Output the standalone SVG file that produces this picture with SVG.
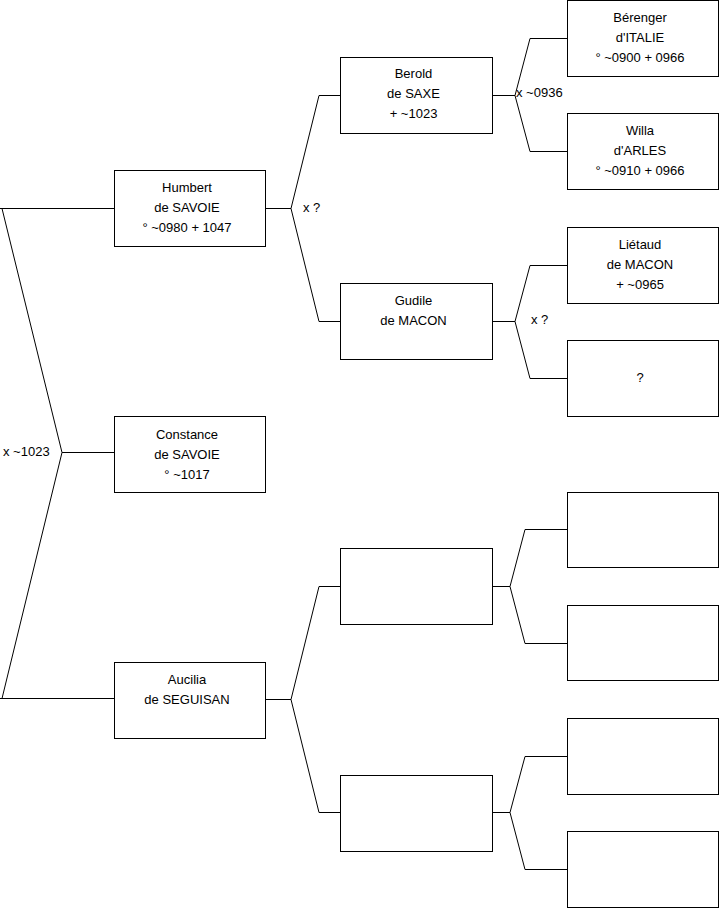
<svg xmlns="http://www.w3.org/2000/svg" width="719" height="908" viewBox="0 0 719 908">
<style>
.box{fill:#fff;stroke:#000;stroke-width:1}
.ln{fill:none;stroke:#000;stroke-width:1}
text{font-family:"Liberation Sans",Arial,sans-serif;font-size:13px;fill:#000}
.c{text-anchor:middle}
</style>
<rect width="719" height="908" fill="#fff"/>
<g id="connectors">
<path class="ln" d="M0 208.5H114.5M2 208.5L62 452.5L2 698.5M0 698.5H114.5M62 452.5H114.5"/>
<path class="ln" d="M265.5 208.5H291M340.5 95.5H319L291 208.5L319 321.5H340.5"/>
<path class="ln" d="M265.5 699.5H291M340.5 586.5H319L291 699.5L319 812.5H340.5"/>
<path class="ln" d="M492.5 95.5H515M567.5 38.5H530L515 95.5L530 151.5H567.5"/>
<path class="ln" d="M492.5 321.5H515M567.5 265.5H530L515 321.5L530 378.5H567.5"/>
<path class="ln" d="M492.5 586.5H510M567.5 529.5H525L510 586.5L525 643.5H567.5"/>
<path class="ln" d="M492.5 812.5H510M567.5 756.5H525L510 812.5L525 869.5H567.5"/>
<text x="3" y="456">x ~1023</text>
<text x="303" y="212">x ?</text>
<text x="516" y="97">x ~0936</text>
<text x="531" y="324">x ?</text>
</g>
<g id="humbert"><rect class="box" x="114.5" y="170.5" width="151" height="76"/>
<text class="c" x="187" y="192">Humbert</text><text class="c" x="187" y="212">de SAVOIE</text><text class="c" x="187" y="232">° ~0980 + 1047</text></g>
<g id="constance"><rect class="box" x="114.5" y="416.5" width="151" height="76"/>
<text class="c" x="187" y="439">Constance</text><text class="c" x="187" y="459">de SAVOIE</text><text class="c" x="187" y="479">° ~1017</text></g>
<g id="aucilia"><rect class="box" x="114.5" y="662.5" width="151" height="76"/>
<text class="c" x="187" y="684">Aucilia</text><text class="c" x="187" y="704">de SEGUISAN</text></g>
<g id="berold"><rect class="box" x="340.5" y="57.5" width="152" height="76"/>
<text class="c" x="413.5" y="78">Berold</text><text class="c" x="413.5" y="98">de SAXE</text><text class="c" x="413.5" y="118">+ ~1023</text></g>
<g id="gudile"><rect class="box" x="340.5" y="283.5" width="152" height="76"/>
<text class="c" x="413.5" y="305">Gudile</text><text class="c" x="413.5" y="325">de MACON</text></g>
<g id="empty1"><rect class="box" x="340.5" y="548.5" width="152" height="76"/></g>
<g id="empty2"><rect class="box" x="340.5" y="775.5" width="152" height="76"/></g>
<g id="berenger"><rect class="box" x="567.5" y="0.5" width="151" height="76"/>
<text class="c" x="640" y="22">Bérenger</text><text class="c" x="640" y="42">d'ITALIE</text><text class="c" x="640" y="62">° ~0900 + 0966</text></g>
<g id="willa"><rect class="box" x="567.5" y="113.5" width="151" height="76"/>
<text class="c" x="640" y="135">Willa</text><text class="c" x="640" y="155">d'ARLES</text><text class="c" x="640" y="175">° ~0910 + 0966</text></g>
<g id="lietaud"><rect class="box" x="567.5" y="227.5" width="151" height="76"/>
<text class="c" x="640" y="249">Liétaud</text><text class="c" x="640" y="269">de MACON</text><text class="c" x="640" y="289">+ ~0965</text></g>
<g id="unknown"><rect class="box" x="567.5" y="340.5" width="151" height="76"/>
<text class="c" x="640" y="382">?</text></g>
<g id="empty3"><rect class="box" x="567.5" y="492.5" width="151" height="75"/></g>
<g id="empty4"><rect class="box" x="567.5" y="605.5" width="151" height="75"/></g>
<g id="empty5"><rect class="box" x="567.5" y="718.5" width="151" height="76"/></g>
<g id="empty6"><rect class="box" x="567.5" y="831.5" width="151" height="76"/></g>
</svg>
